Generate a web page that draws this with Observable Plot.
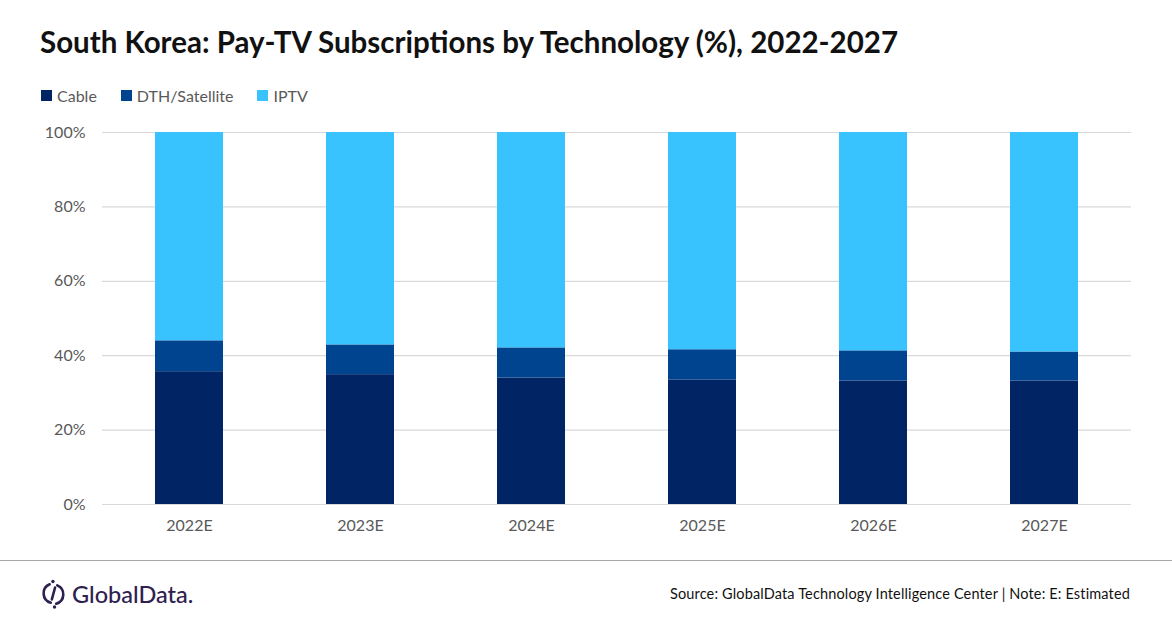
<!DOCTYPE html>
<html>
<head>
<meta charset="utf-8">
<script src="https://cdn.jsdelivr.net/npm/d3@7"></script>
<script src="https://cdn.jsdelivr.net/npm/@observablehq/plot@0.6"></script>
<style>
  html, body { margin: 0; padding: 0; background: #fff; }
  #page { position: relative; width: 1172px; height: 628px; overflow: hidden; font-family: Lato, "Open Sans", sans-serif; }
  #title { position: absolute; left: 40px; top: 24px; font-size: 29.5px; font-weight: 700; color: #111; white-space: nowrap; }
  #legend { position: absolute; left: 41px; top: 86px; font-size: 16px; color: #595959; display: flex; white-space: nowrap; }
  .li { display: flex; align-items: center; margin-right: 24px; }
  .sw { width: 11px; height: 11px; margin-right: 5px; }
  #chart { position: absolute; left: 0; top: 115px; }
  #rule { position: absolute; left: 0; top: 560px; width: 1172px; height: 0; border-top: 1.5px solid #a6a6a6; }
  #logo { position: absolute; left: 41px; top: 578px; display: flex; align-items: center; color: #2e2150; font-size: 23.5px; font-weight: 500; letter-spacing: 0px; }
  #source { position: absolute; right: 42px; top: 585px; font-size: 14.5px; letter-spacing: 0.15px; color: #111; white-space: nowrap; }
</style>
</head>
<body>
<div id="page">
  <div id="title">South Korea: Pay-TV Subscriptions by Technology (%), 2022-2027</div>
  <div id="legend"></div>
  <div id="chart"></div>
  <div id="rule"></div>
  <div id="logo">
    <svg width="26" height="32" viewBox="0 0 24 28" style="margin-right:5px">
      <path d="M8 5 A9 9 0 0 0 9 22" fill="none" stroke="#2e2150" stroke-width="2.4" stroke-linecap="round"/>
      <path d="M15 6 A9 9 0 0 1 14 23" fill="none" stroke="#2e2150" stroke-width="2.4" stroke-linecap="round"/>
      <path d="M13 8 L10 19" fill="none" stroke="#2e2150" stroke-width="2.4" stroke-linecap="round"/>
      <circle cx="11" cy="2.5" r="1.6" fill="#2e2150"/>
      <circle cx="12.5" cy="26" r="1.6" fill="#2e2150"/>
    </svg>
    <span>GlobalData.</span>
  </div>
  <div id="source">Source: GlobalData Technology Intelligence Center | Note: E: Estimated</div>
</div>
<script>
const years = ["2022E", "2023E", "2024E", "2025E", "2026E", "2027E"];
const seriesNames = ["Cable", "DTH/Satellite", "IPTV"];
const seriesColors = ["#002464", "#00438f", "#38c3ff"];
const cable = [35.7, 34.9, 34.0, 33.5, 33.2, 33.2];
const dth = [8.3, 8.0, 8.1, 8.1, 8.1, 7.8];
const iptv = [56.0, 57.1, 57.9, 58.4, 58.7, 59.0];
const yTicks = [0, 20, 40, 60, 80, 100];

const valuesBySeries = [cable, dth, iptv];
const rows = [];
seriesNames.forEach((s, si) => {
  years.forEach((y, yi) => rows.push({year: y, series: s, value: valuesBySeries[si][yi]}));
});

// legend
const legend = document.getElementById("legend");
seriesNames.forEach((s, i) => {
  const li = document.createElement("div");
  li.className = "li";
  li.innerHTML = `<div class="sw" style="background:${seriesColors[i]}"></div><span>${s}</span>`;
  legend.appendChild(li);
});

const chart = Plot.plot({
  width: 1172,
  height: 430,
  marginLeft: 102,
  marginRight: 41,
  marginTop: 17,
  marginBottom: 41,
  style: { fontFamily: "Lato, 'Open Sans', sans-serif", fontSize: "16px", color: "#595959", background: "#fff" },
  x: { domain: years, paddingInner: 0.6, paddingOuter: 0.3, label: null },
  y: { domain: [0, 100], label: null },
  color: { domain: seriesNames, range: seriesColors },
  marks: [
    Plot.ruleY(yTicks, { stroke: "#d9d9d9", strokeWidth: 1.2 }),
    Plot.barY(rows, { x: "year", y: "value", fill: "series", order: seriesNames }),
    Plot.axisY({ ticks: yTicks, tickSize: 0, tickPadding: 17, tickFormat: d => d + "%", fill: "#595959" }),
    Plot.axisX({ tickSize: 0, tickPadding: 15, fill: "#595959" })
  ]
});
document.getElementById("chart").appendChild(chart);
</script>
</body>
</html>
